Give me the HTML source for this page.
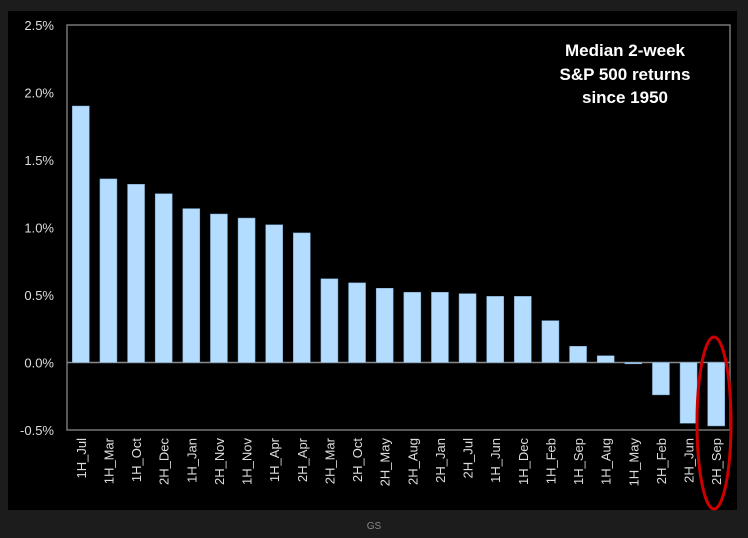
<!DOCTYPE html>
<html><head><meta charset="utf-8"><style>
body{margin:0;background:#1c1c1c;width:748px;height:538px;overflow:hidden}
svg{display:block}
</style></head><body>
<svg width="748" height="538">
<rect x="8" y="11" width="729" height="499" fill="#000"/>
<g id="plot"></g>
<text x="625" y="56" fill="#fff" font-family="Liberation Sans, sans-serif" font-weight="bold" font-size="17" text-anchor="middle"><tspan x="625" y="56">Median 2-week</tspan><tspan x="625" y="80">S&amp;P 500 returns</tspan><tspan x="625" y="103">since 1950</tspan></text>
<ellipse cx="714" cy="423" rx="17" ry="86" fill="none" stroke="#c00" stroke-width="3"/>
<text x="374" y="529" fill="#888" font-family="Liberation Sans, sans-serif" font-size="10" text-anchor="middle">GS</text>
</svg>
<script>
const categories=["1H_Jul","1H_Mar","1H_Oct","2H_Dec","1H_Jan","2H_Nov","1H_Nov","1H_Apr","2H_Apr","2H_Mar","2H_Oct","2H_May","2H_Aug","2H_Jan","2H_Jul","1H_Jun","1H_Dec","1H_Feb","1H_Sep","1H_Aug","1H_May","2H_Feb","2H_Jun","2H_Sep"];
const values=[1.9,1.36,1.32,1.25,1.14,1.10,1.07,1.02,0.96,0.62,0.59,0.55,0.52,0.52,0.51,0.49,0.49,0.31,0.12,0.05,-0.01,-0.24,-0.45,-0.47];
const tickValues=[2.5,2.0,1.5,1.0,0.5,0.0,-0.5];
const tickLabels=["2.5%","2.0%","1.5%","1.0%","0.5%","0.0%","-0.5%"];
const NS="http://www.w3.org/2000/svg";
const L=67,R=730,T=25,B=430,ymax=2.5,ymin=-0.5;
const y=v=>T+(ymax-v)/(ymax-ymin)*(B-T);
const slot=(R-L)/categories.length;
const x=i=>L+i*slot;
const g=document.getElementById('plot');
function mk(t,a){const e=document.createElementNS(NS,t);for(const k in a)e.setAttribute(k,a[k]);g.appendChild(e);return e;}
const frame=mk('rect',{x:L,y:T,width:R-L,height:B-T,fill:'none',stroke:'#777','stroke-width':1.5});


tickValues.forEach((v,i)=>{
 const t=mk('text',{x:54,y:y(v)+5,fill:'#ddd','font-family':'Liberation Sans, sans-serif','font-size':13,'text-anchor':'end'});
 t.textContent=tickLabels[i];
 
 
});
const zl=mk('line',{x1:L,x2:R,y1:y(0),y2:y(0),stroke:'#888','stroke-width':1.5});


values.forEach((v,i)=>{
 const bw=17,bx=x(i)+(slot-bw)/2;
 const y0=y(0),yv=y(v);
 const r=mk('rect',{x:bx,y:Math.min(y0,yv),width:bw,height:Math.max(Math.abs(yv-y0),1),fill:'#b3dcff',stroke:'#7aa7cc','stroke-width':0.5});
 
 
 const cx=x(i)+slot/2+5;
 const t=mk('text',{x:cx,y:438,fill:'#ddd','font-family':'Liberation Sans, sans-serif','font-size':13,'text-anchor':'end',transform:`rotate(-90 ${cx} 438)`});
 t.textContent=categories[i];
 
 
});
</script>
</body></html>
